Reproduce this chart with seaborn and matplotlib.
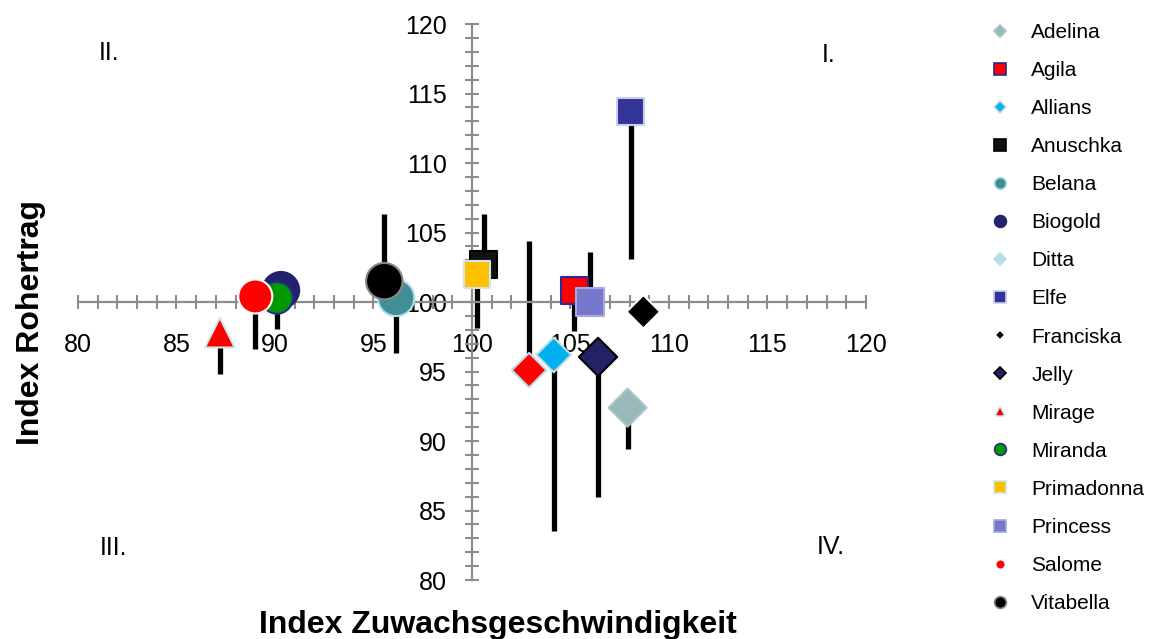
import numpy as np
import pandas as pd
import seaborn as sns
import matplotlib.pyplot as plt
from matplotlib.lines import Line2D
from matplotlib.ticker import MultipleLocator

# werte
sorten = ["Adelina", "Agila", "Allians", "Anuschka", "Belana", "Biogold", "Ditta", "Elfe",
          "Franciska", "Jelly", "Mirage", "Miranda", "Primadonna", "Princess", "Salome", "Vitabella"]
zuwachs = [107.9, 105.2, 104.15, 100.6, 96.15, 90.3, 102.9, 108.05,
           108.7, 106.4, 87.2, 90.1, 100.25, 106.0, 89.0, 95.55]
rohertrag = [92.4, 100.85, 96.2, 102.7, 100.3, 100.85, 95.1, 113.7,
             99.3, 96.05, 97.8, 100.3, 102.0, 100.0, 100.4, 101.5]
fehler_ende = [89.4, 97.9, 83.5, 106.3, 96.3, np.nan, 104.4, 103.1,
               np.nan, 86.0, 94.8, 98.05, 98.1, 103.6, 96.6, 106.3]

df = pd.DataFrame({"Sorte": sorten, "x": zuwachs, "y": rohertrag, "ende": fehler_ende})

# aussehen der marker
marker = {"Adelina": "D", "Agila": "s", "Allians": "D", "Anuschka": "s", "Belana": "o",
          "Biogold": "o", "Ditta": "D", "Elfe": "s", "Franciska": "D", "Jelly": "D",
          "Mirage": "^", "Miranda": "o", "Primadonna": "s", "Princess": "s", "Salome": "o",
          "Vitabella": "o"}
farbe = {"Adelina": "#99b8ba", "Agila": "#ff0000", "Allians": "#00b0f0", "Anuschka": "#111111",
         "Belana": "#3f8f94", "Biogold": "#22226e", "Ditta": "#ff0000", "Elfe": "#333399",
         "Franciska": "#000000", "Jelly": "#222266", "Mirage": "#ff0000", "Miranda": "#009900",
         "Primadonna": "#ffc000", "Princess": "#7777cc", "Salome": "#ff0000", "Vitabella": "#000000"}
rand = {"Adelina": "#a9c4c6", "Agila": "#2b2b8c", "Allians": "#c8dde0", "Anuschka": "#000000",
        "Belana": "#b7dee8", "Biogold": "#22226e", "Ditta": "#b7dee8", "Elfe": "#ccccee",
        "Franciska": "#ffffff", "Jelly": "#000000", "Mirage": "#d0e8ea", "Miranda": "#2b2b8c",
        "Primadonna": "#cde6ea", "Princess": "#a8a8dd", "Salome": "#ffffff", "Vitabella": "#888888"}
groesse = {"Adelina": 375, "Agila": 380, "Allians": 315, "Anuschka": 380, "Belana": 690,
           "Biogold": 690, "Ditta": 310, "Elfe": 400, "Franciska": 290, "Jelly": 380,
           "Mirage": 460, "Miranda": 520, "Primadonna": 370, "Princess": 400, "Salome": 600,
           "Vitabella": 690}
legende_farbe = dict(farbe, Ditta="#b7dee8")
legende_groesse = {"Franciska": 5, "Mirage": 7, "Salome": 7}

sns.set_style("white")
plt.rcParams["font.family"] = ["Liberation Sans", "DejaVu Sans"]
plt.rcParams["text.color"] = "black"
plt.rcParams["xtick.labelcolor"] = "black"
plt.rcParams["ytick.labelcolor"] = "black"

fig = plt.figure(figsize=(11.52, 6.39), dpi=100)
ax = fig.add_axes([0.0677, 0.0923, 0.684, 0.8701])

# fehlerbalken (nur eine richtung)
m = df["ende"].notna()
ax.vlines(df.loc[m, "x"], df.loc[m, "y"], df.loc[m, "ende"], colors="black", lw=3.8, zorder=2)

sns.scatterplot(data=df, x="x", y="y", hue="Sorte", style="Sorte", size="Sorte",
                palette=farbe, markers=marker, sizes=groesse,
                edgecolor=[rand[s] for s in sorten], linewidth=1.5,
                legend=False, ax=ax, zorder=3)

ax.set_xlim(80, 120)
ax.set_ylim(80, 120)
for s in ["top", "right"]:
    ax.spines[s].set_visible(False)
for s in ["left", "bottom"]:
    ax.spines[s].set_position(("data", 100))
    ax.spines[s].set_color("#8c8c8c")
    ax.spines[s].set_linewidth(1.6)
ax.xaxis.set_major_locator(MultipleLocator(5))
ax.xaxis.set_minor_locator(MultipleLocator(1))
ax.yaxis.set_major_locator(MultipleLocator(5))
ax.yaxis.set_minor_locator(MultipleLocator(1))
ax.tick_params(which="both", bottom=True, left=True, direction="inout", length=10, width=1.5,
               color="#8c8c8c")
ax.tick_params(axis="x", which="major", labelsize=18, pad=17)
ax.tick_params(axis="y", which="major", labelsize=18, pad=13)
ax.set_xlabel("")
ax.set_ylabel("")

# quadranten
for tx, ty, t in [(81.6, 117.9, "II."), (118.1, 117.8, "I."), (81.8, 82.3, "III."), (118.2, 82.4, "IV.")]:
    ax.text(tx, ty, t, ha="center", va="center", fontsize=18)

fig.text(0.432, 0.0094, "Index Zuwachsgeschwindigkeit", ha="center", va="baseline",
         fontsize=23, fontweight="bold")
fig.text(0.027, 0.496, "Index Rohertrag", ha="center", va="center", rotation=90,
         fontsize=23, fontweight="bold")

handles = [Line2D([], [], marker=marker[s], linestyle="", markersize=legende_groesse.get(s, 8.5)
                  if marker[s] != "D" else legende_groesse.get(s, 6.2),
                  markerfacecolor=legende_farbe[s], markeredgecolor=rand[s], markeredgewidth=1.2)
           for s in sorten]
fig.legend(handles, sorten, loc="upper left", bbox_to_anchor=(0.859, 0.964), frameon=False,
           fontsize=15, handlelength=1.0, handletextpad=1.0, labelspacing=0.915,
           borderpad=0, borderaxespad=0)

fig.savefig("out.png", dpi=100)
